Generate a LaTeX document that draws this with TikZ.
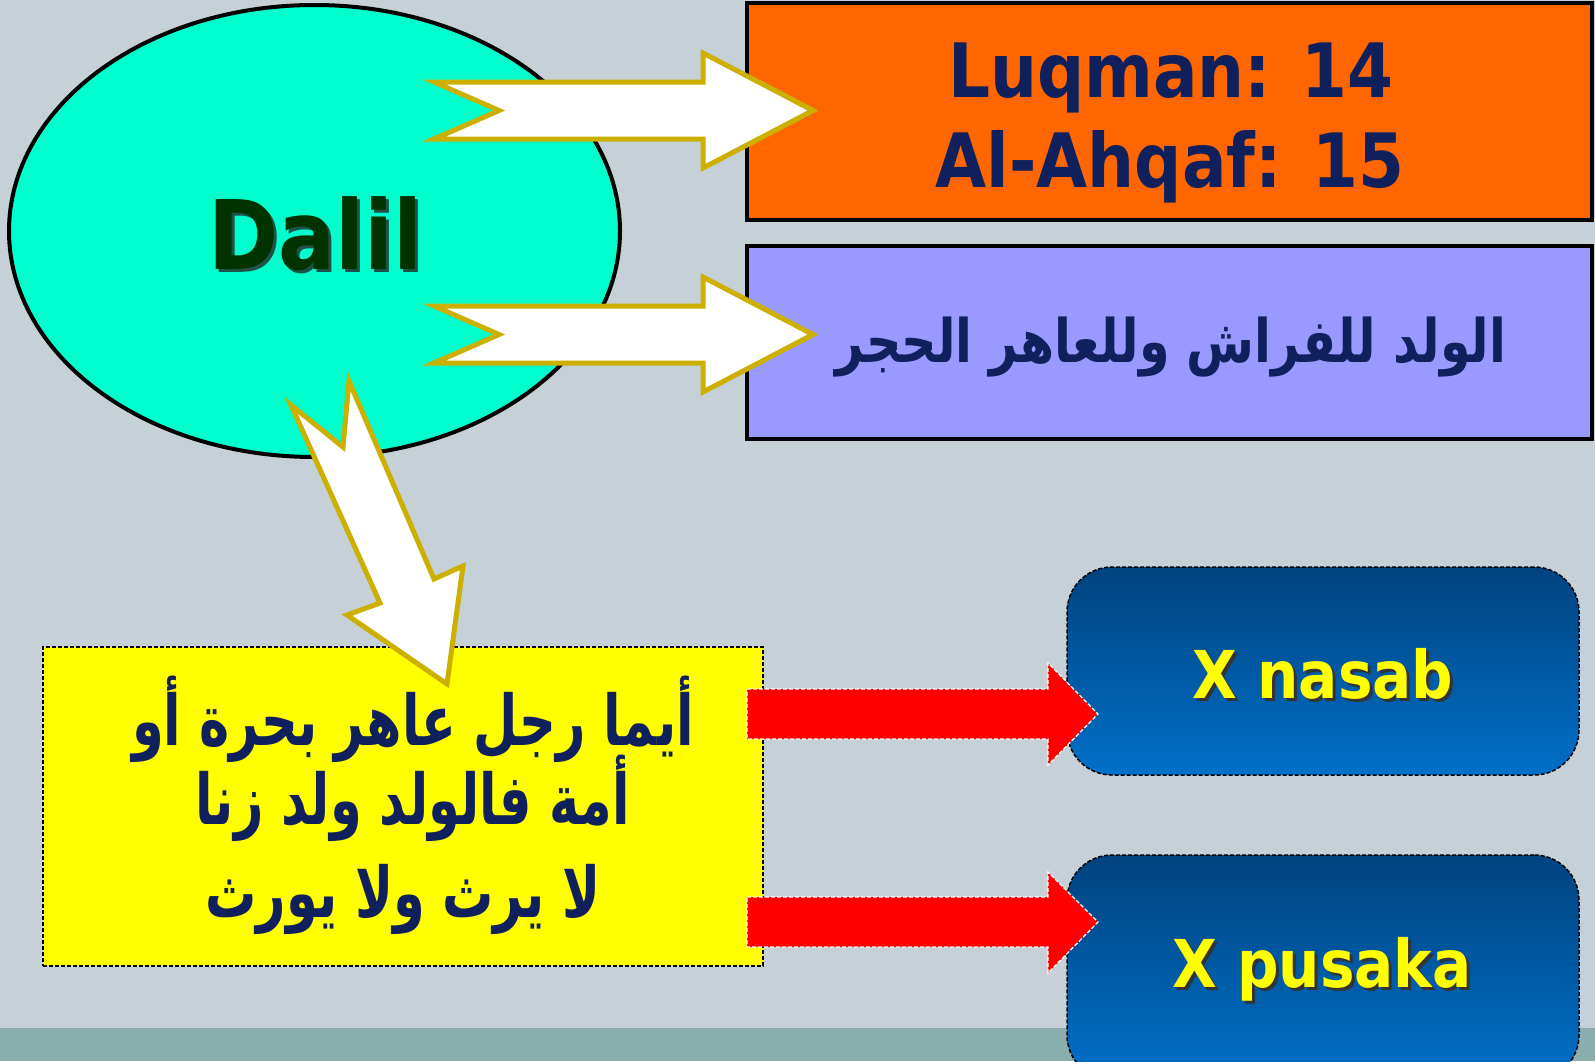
\documentclass[tikz,border=0pt]{standalone}
\usepackage{fontspec}
\usetikzlibrary{shapes.geometric}
\TeXXeTstate=1
\newfontfamily\latb{DejaVu Sans Bold}[FakeStretch=0.88]
\newfontfamily\arabicfont[Script=Arabic,FakeStretch=0.82]{DejaVu Sans Bold}
\newfontfamily\arabicfontb[Script=Arabic,FakeStretch=0.73]{DejaVu Sans Bold}
\definecolor{bgc}{HTML}{C5D1D7}
\definecolor{bandc}{HTML}{8AADAD}
\definecolor{ellc}{HTML}{00FFCC}
\definecolor{orc}{HTML}{FF6600}
\definecolor{purc}{HTML}{9999FF}
\definecolor{yelc}{HTML}{FFFF00}
\definecolor{navy}{HTML}{0F205C}
\definecolor{goldc}{HTML}{CCB000}
\definecolor{blutop}{HTML}{00437F}
\definecolor{blubot}{HTML}{0070C8}
\definecolor{grn}{HTML}{003300}
\tikzset{
  whitearrow/.style={fill=white, draw=goldc, line width=5pt, line join=miter},
  redarrow/.style={fill=red, draw=white, line width=1.2pt, dash pattern=on 4pt off 2pt},
  solidbox/.style={draw=black, line width=4pt, inner sep=0pt, rectangle},
  bluebox/.style={draw=black, line width=1.5pt, dash pattern=on 4pt off 2pt, rounded corners=45pt,
    top color=blutop, bottom color=blubot, minimum width=512pt, inner sep=0pt, rectangle},
  latin/.style={font=\latb\fontsize{75}{80}\selectfont, text=navy, anchor=base, inner sep=0pt},
  arab/.style={font=\arabicfont\fontsize{#1}{#1}\selectfont, text=navy, anchor=base, inner sep=0pt},
  arabb/.style={font=\arabicfontb\fontsize{#1}{#1}\selectfont, text=navy, anchor=base, inner sep=0pt},
  xtext/.style={font=\latb\fontsize{66}{70}\selectfont, anchor=base, inner sep=0pt}
}
\begin{document}
\begin{tikzpicture}[x=1pt,y=-1pt]
\useasboundingbox (0,0) rectangle (1595,1061);
\fill[bgc] (0,0) rectangle (1595,1061);
\fill[bandc] (0,1028) rectangle (1595,1061);
% ellipse
\node[ellipse, draw=black, line width=4pt, fill=ellc, inner sep=0pt,
  minimum width=611pt, minimum height=452pt] (dalil) at (314.5,231) {};
% boxes
\node[solidbox, fill=orc, minimum width=845pt, minimum height=217pt] (orange) at (1169.5,111.5) {};
\node[solidbox, fill=purc, minimum width=845pt, minimum height=193pt] (purple) at (1169.5,342.5) {};
\node[rectangle, fill=yelc, draw=black, line width=1.5pt, dash pattern=on 4pt off 2pt,
  minimum width=720pt, minimum height=319pt, inner sep=0pt] (yellow) at (403,806.5) {};
\node[bluebox, minimum height=208pt] (nasab) at (1323,671) {};
\node[bluebox, minimum height=225pt] (pusaka) at (1323,967.5) {};
% white arrows
\draw[whitearrow] (434,82) -- (703,82) -- (703,53) -- (813,110.5) -- (703,168) -- (703,139) -- (434,139) -- (499,110.5) -- cycle;
\draw[whitearrow] (434,306) -- (703,306) -- (703,277) -- (813,334.5) -- (703,392) -- (703,363) -- (434,363) -- (499,334.5) -- cycle;
\draw[whitearrow] (349,381) -- (343,447) -- (291,405) -- (380,603) -- (347,615) -- (447,684) -- (463,566) -- (434,579) -- cycle;
% red arrows
\draw[redarrow] (747,689) -- (1048,689) -- (1048,663) -- (1098,714) -- (1048,765) -- (1048,739) -- (747,739) -- cycle;
\draw[redarrow] (747,897) -- (1048,897) -- (1048,872) -- (1098,922) -- (1048,973) -- (1048,947) -- (747,947) -- cycle;
% texts
\node[font=\latb\fontsize{96}{100}\selectfont, text=black!85, anchor=base, inner sep=0pt, opacity=0.8] (dalilsh) at (318,272) {Dalil};
\node[font=\latb\fontsize{96}{100}\selectfont, text=grn, anchor=base, inner sep=0pt] (daliltx) at (315,269) {Dalil};
\node[latin] (luq) at (1171,97) {Luqman: 14};
\node[latin] (ahq) at (1170,187) {Al-Ahqaf: 15};
\node[arab=60] (hadith1) at (1171,362) {\beginR الولد للفراش وللعاهر الحجر\endR};
\node[arabb=70] (y1) at (413,745) {\beginR أيما رجل عاهر بحرة أو\endR};
\node[arabb=70] (y2) at (413,824) {\beginR أمة فالولد ولد زنا\endR};
\node[arabb=70] (y3) at (403,917) {\beginR لا يرث ولا يورث\endR};
\node[xtext, text=black!80] (nasabsh) at (1326,701) {X nasab};
\node[xtext, text=yelc] (nasabtx) at (1323,698) {X nasab};
\node[xtext, text=black!80] (pusakash) at (1325,990) {X pusaka};
\node[xtext, text=yelc] (pusakatx) at (1322,987) {X pusaka};
\end{tikzpicture}
\end{document}
